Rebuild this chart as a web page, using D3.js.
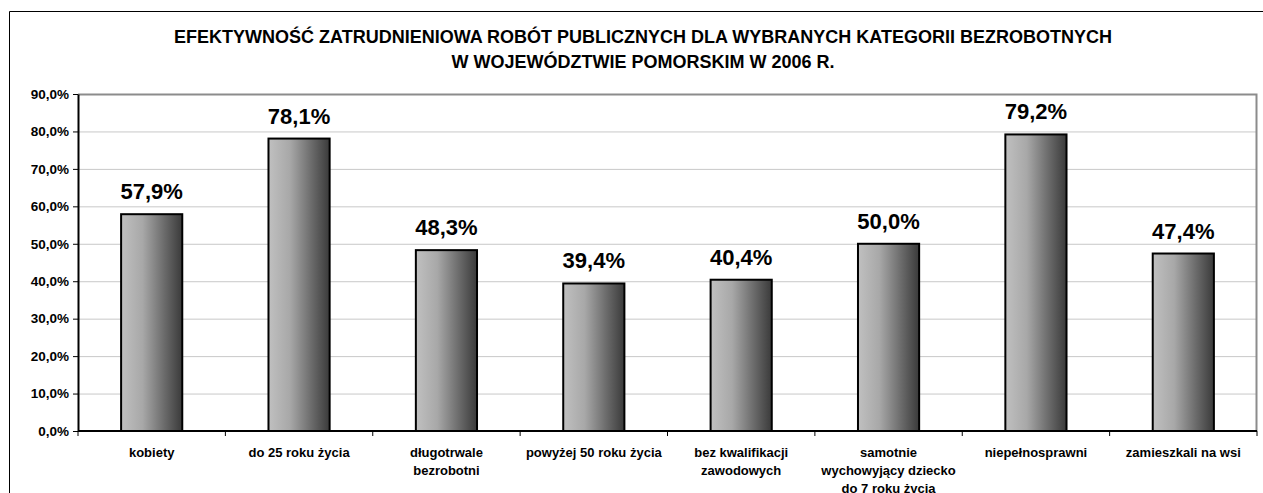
<!DOCTYPE html>
<html>
<head>
<meta charset="utf-8">
<script src="https://cdn.jsdelivr.net/npm/d3@7"></script>
<style>
  body { margin: 0; background: #fff; }
  svg { display: block; font-family: Arial, "Liberation Sans", sans-serif; }
</style>
</head>
<body>
<div id="chart"></div>
<script>
const categories = [
  ["kobiety"],
  ["do 25 roku życia"],
  ["długotrwale", "bezrobotni"],
  ["powyżej 50 roku życia"],
  ["bez kwalifikacji", "zawodowych"],
  ["samotnie", "wychowyjący dziecko", "do 7 roku życia"],
  ["niepełnosprawni"],
  ["zamieszkali na wsi"]
];
const values = [57.9, 78.1, 48.3, 39.4, 40.4, 50.0, 79.2, 47.4];
const yTicks = [0, 10, 20, 30, 40, 50, 60, 70, 80, 90];
const titleLines = [
  "EFEKTYWNOŚĆ ZATRUDNIENIOWA ROBÓT PUBLICZNYCH DLA WYBRANYCH KATEGORII BEZROBOTNYCH",
  "W WOJEWÓDZTWIE POMORSKIM W 2006 R."
];

const width = 1263, height = 493;
const margin = { left: 78, right: 6, top: 94, bottom: 62 };
const innerW = width - margin.left - margin.right;
const innerH = height - margin.top - margin.bottom;

const fmt = v => v.toFixed(1).replace(".", ",") + "%";

const svg = d3.select("#chart").append("svg")
  .attr("width", width)
  .attr("height", height);

// bar gradient
const grad = svg.append("defs").append("linearGradient")
  .attr("id", "barGrad")
  .attr("x1", "0%").attr("x2", "100%").attr("y1", "0%").attr("y2", "0%");
grad.append("stop").attr("offset", "0%").attr("stop-color", "#c0c0c0");
grad.append("stop").attr("offset", "35%").attr("stop-color", "#a8a8a8");
grad.append("stop").attr("offset", "70%").attr("stop-color", "#6c6c6c");
grad.append("stop").attr("offset", "100%").attr("stop-color", "#3a3a3a");

// outer frame (left + top only visible)
svg.append("path")
  .attr("d", "M9.5," + height + " V11.5 H" + width)
  .attr("fill", "none")
  .attr("stroke", "#000")
  .attr("stroke-width", 1);

svg.selectAll("text.title")
  .data(titleLines)
  .enter().append("text")
  .attr("class", "title")
  .attr("x", 643)
  .attr("y", (d, i) => 43 + i * 25)
  .attr("text-anchor", "middle")
  .style("font-size", "18px")
  .style("font-weight", "bold")
  .text(d => d);

const g = svg.append("g")
  .attr("transform", "translate(" + margin.left + "," + margin.top + ")");

const x = d3.scaleBand()
  .domain(d3.range(categories.length))
  .range([0, innerW])
  .paddingInner(0.585)
  .paddingOuter(0.2925);

const xTicks = d3.scaleBand()
  .domain(d3.range(categories.length))
  .range([0, innerW]);

const y = d3.scaleLinear().domain([0, 90]).range([innerH, 0]);

// gridlines
g.selectAll("line.grid")
  .data(yTicks.filter(t => t > 0 && t < 90))
  .enter().append("line")
  .attr("class", "grid")
  .attr("x1", 0).attr("x2", innerW)
  .attr("y1", d => y(d) + 0.5).attr("y2", d => y(d) + 0.5)
  .attr("stroke", "#c8c8c8")
  .attr("stroke-width", 1);

// plot border top & right
g.append("path")
  .attr("d", "M0,0.5 H" + (innerW - 0.5) + " V" + innerH)
  .attr("fill", "none")
  .attr("stroke", "#8c8c8c")
  .attr("stroke-width", 2);

// bars
g.selectAll("rect.bar")
  .data(values)
  .enter().append("rect")
  .attr("class", "bar")
  .attr("x", (d, i) => x(i))
  .attr("y", d => y(d))
  .attr("width", x.bandwidth())
  .attr("height", d => innerH - y(d))
  .attr("fill", "url(#barGrad)")
  .attr("stroke", "#000")
  .attr("stroke-width", 2);

// value labels
g.selectAll("text.val")
  .data(values)
  .enter().append("text")
  .attr("class", "val")
  .attr("x", (d, i) => x(i) + x.bandwidth() / 2)
  .attr("y", d => y(d) - 15)
  .attr("text-anchor", "middle")
  .style("font-size", "22px")
  .style("font-weight", "bold")
  .text(fmt);

// y axis
const yAxis = g.append("g")
  .call(d3.axisLeft(y).tickValues(yTicks).tickFormat(fmt).tickSize(5).tickSizeOuter(0));
yAxis.select(".domain").attr("stroke", "#000").attr("stroke-width", 2);
yAxis.selectAll("text").style("font-size", "13.5px").style("font-weight", "bold").attr("x", -9);

// x axis
const xAxis = g.append("g")
  .attr("transform", "translate(0," + innerH + ")");
xAxis.append("line")
  .attr("x1", 0).attr("x2", innerW)
  .attr("stroke", "#000").attr("stroke-width", 2);
xAxis.selectAll("line.tick")
  .data(d3.range(categories.length + 1))
  .enter().append("line")
  .attr("class", "tick")
  .attr("x1", d => d * xTicks.bandwidth()).attr("x2", d => d * xTicks.bandwidth())
  .attr("y1", 0).attr("y2", 5)
  .attr("stroke", "#000");

const catLabels = xAxis.selectAll("text.cat")
  .data(categories)
  .enter().append("text")
  .attr("class", "cat")
  .attr("text-anchor", "middle")
  .style("font-size", "13px")
  .style("font-weight", "bold");
catLabels.selectAll("tspan")
  .data((d, i) => d.map(line => ({ line, i })))
  .enter().append("tspan")
  .attr("x", d => xTicks(d.i) + xTicks.bandwidth() / 2)
  .attr("y", (d, j) => 26 + j * 18)
  .text(d => d.line);
</script>
</body>
</html>
